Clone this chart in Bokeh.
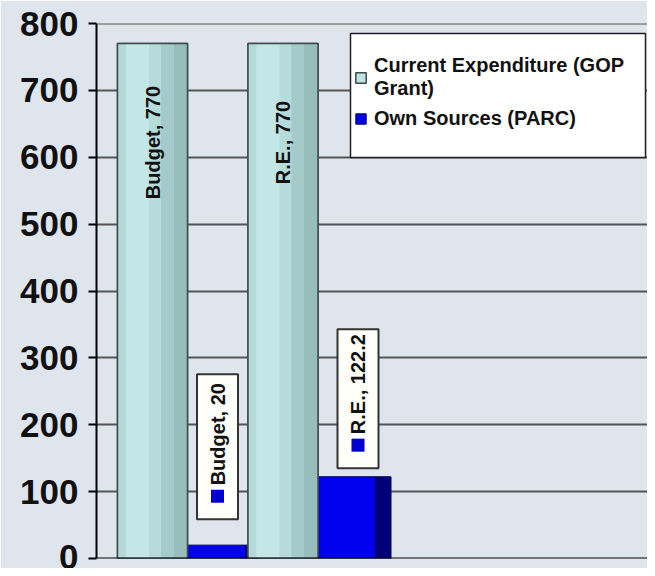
import numpy as np
from bokeh.plotting import figure
from bokeh.models import Range1d, Span, Legend, LegendItem, FixedTicker, BoxAnnotation
from bokeh.embed import file_html
from bokeh.resources import INLINE
from bokeh.core.properties import value

# ---- data ----
categories = ["Budget", "R.E."]
current_expenditure = [770, 770]      # Current Expenditure (GOP Grant)
own_sources = [20, 122.2]             # Own Sources (PARC)
y_ticks = [0, 100, 200, 300, 400, 500, 600, 700, 800]
legend_labels = ["Current Expenditure (GOP\nGrant)", "Own Sources (PARC)"]

# ---- layout / style ----
W, H = 647, 568
LEFT, TOP, BOTTOM = 96, 23, 10
frame_w = W - LEFT
frame_h = H - TOP - BOTTOM
GROUP_PX = 130.5
GB_PX = 187                      # pixel of first group boundary
x_start = 0.5 - (GB_PX - LEFT) / GROUP_PX
K = 800 / frame_h                # data units per px (y)


def px_x(px):
    return 0.5 + (px - GB_PX) / GROUP_PX


def px_y(py):
    return (H - BOTTOM - py) * K


BG = "#dfe5ed"
FONT = value("Liberation Sans")

p = figure(width=W, height=H, output_backend="svg", toolbar_location=None,
           x_range=Range1d(x_start, x_start + frame_w / GROUP_PX),
           y_range=Range1d(0, 800),
           min_border_left=LEFT, min_border_right=0,
           min_border_top=TOP, min_border_bottom=BOTTOM,
           background_fill_color=BG, border_fill_color=BG)
p.outline_line_color = None
p.xaxis.visible = False
p.xgrid.visible = False

p.ygrid.ticker = FixedTicker(ticks=y_ticks)
p.ygrid.grid_line_color = "#555555"
p.ygrid.grid_line_width = 2

ax = p.yaxis[0]
ax.ticker = FixedTicker(ticks=y_ticks)
ax.axis_line_color = "black"
ax.axis_line_width = 2
ax.major_tick_line_color = "black"
ax.major_tick_line_width = 2
ax.major_tick_out = 8
ax.major_tick_in = 0
ax.minor_tick_line_color = None
ax.major_label_standoff = 10
ax.major_label_text_font = "Liberation Sans"
ax.major_label_text_font_style = "bold"
ax.major_label_text_font_size = "35px"
ax.major_label_text_color = "#111111"

p.add_layout(Span(location=0, dimension="width", line_color="black", line_width=2))
p.add_layout(Span(location=800, dimension="width", line_color="#555555", line_width=2))

idx = np.arange(len(categories))
gb = idx + 0.5
TEAL_W = 70 / GROUP_PX
FRONT_W = 58 / GROUP_PX
SIDE_W = 15 / GROUP_PX

# ---- own sources (blue 3D bars) ----
blue_r = p.vbar(x=gb + FRONT_W / 2, width=FRONT_W, top=own_sources, bottom=0,
                fill_color="#0000ee", line_color="#00005a", line_width=1)
p.vbar(x=gb + FRONT_W + SIDE_W / 2, width=SIDE_W, top=own_sources, bottom=0,
       fill_color="#000078", line_color="#00005a", line_width=1)

# ---- current expenditure (teal cylinders) ----
teal_left = gb - TEAL_W
teal_r = p.vbar(x=gb - TEAL_W / 2, width=TEAL_W, top=current_expenditure, bottom=0,
                fill_color="#bfe2e2", line_color="#3f4a4a", line_width=1.5)
stripes = [(0.0, 0.12, "#b3d9d9"), (0.12, 0.45, "#c3e6e6"), (0.45, 0.62, "#b6dbdb"),
           (0.62, 0.80, "#a4caca"), (0.80, 1.0, "#97bdbd")]
for a, b, c in stripes:
    p.vbar(x=teal_left + (a + b) / 2 * TEAL_W, width=(b - a) * TEAL_W,
           top=current_expenditure, bottom=0, fill_color=c, line_color=None)
p.vbar(x=gb - TEAL_W / 2, width=TEAL_W, top=current_expenditure, bottom=0,
       fill_color=None, line_color="#3f4a4a", line_width=1.5)

# teal value labels
TEAL_LABEL_Y = 622
p.text(x=gb - TEAL_W / 2, y=[TEAL_LABEL_Y] * len(categories),
       text=[f"{c}, {v:g}" for c, v in zip(categories, current_expenditure)],
       angle=np.pi / 2, text_align="center", text_baseline="middle",
       text_font=FONT, text_font_style="bold", text_font_size="20px", text_color="#111111")

# blue value labels (boxed, with key)
box_dx_px = [1, 11]
box_cy = [167, 239]
box_h = [145, 139]
box_x = [g + FRONT_W / 2 + d / GROUP_PX for g, d in zip(gb, box_dx_px)]
p.rect(x=box_x, y=box_cy, width=41, height=box_h, width_units="screen", height_units="screen",
       fill_color="#fffffa", line_color="#333333", line_width=2)
sq_y = [cy - (h / 2 - 23) * K for cy, h in zip(box_cy, box_h)]
p.scatter(x=box_x, y=sq_y, marker="square", size=13, fill_color="#0000cc", line_color=None)
txt_y = [cy - (h / 2 - 34) * K for cy, h in zip(box_cy, box_h)]
p.text(x=box_x, y=txt_y, text=[f"{c}, {v:g}" for c, v in zip(categories, own_sources)],
       angle=np.pi / 2, text_align="left", text_baseline="middle",
       text_font=FONT, text_font_style="bold", text_font_size="20px", text_color="#111111")

# ---- legend ----
p.add_layout(BoxAnnotation(left=px_x(350), right=px_x(645), top=px_y(33), bottom=px_y(157),
                           fill_color="white", fill_alpha=1.0,
                           line_color="#222222", line_width=1.5, line_alpha=1.0))
legend = Legend(items=[LegendItem(label=legend_labels[0], renderers=[teal_r]),
                       LegendItem(label=legend_labels[1], renderers=[blue_r])],
                location=(258, 428), orientation="vertical",
                border_line_color=None, background_fill_alpha=0.0,
                padding=8, spacing=7, margin=0,
                glyph_width=13, glyph_height=13, label_standoff=7, label_width=250,
                label_text_font="Liberation Sans", label_text_font_style="bold",
                label_text_font_size="20px", label_text_line_height=1.3,
                label_text_color="#111111")
p.add_layout(legend)

open("out.html", "w").write(file_html(p, INLINE))
